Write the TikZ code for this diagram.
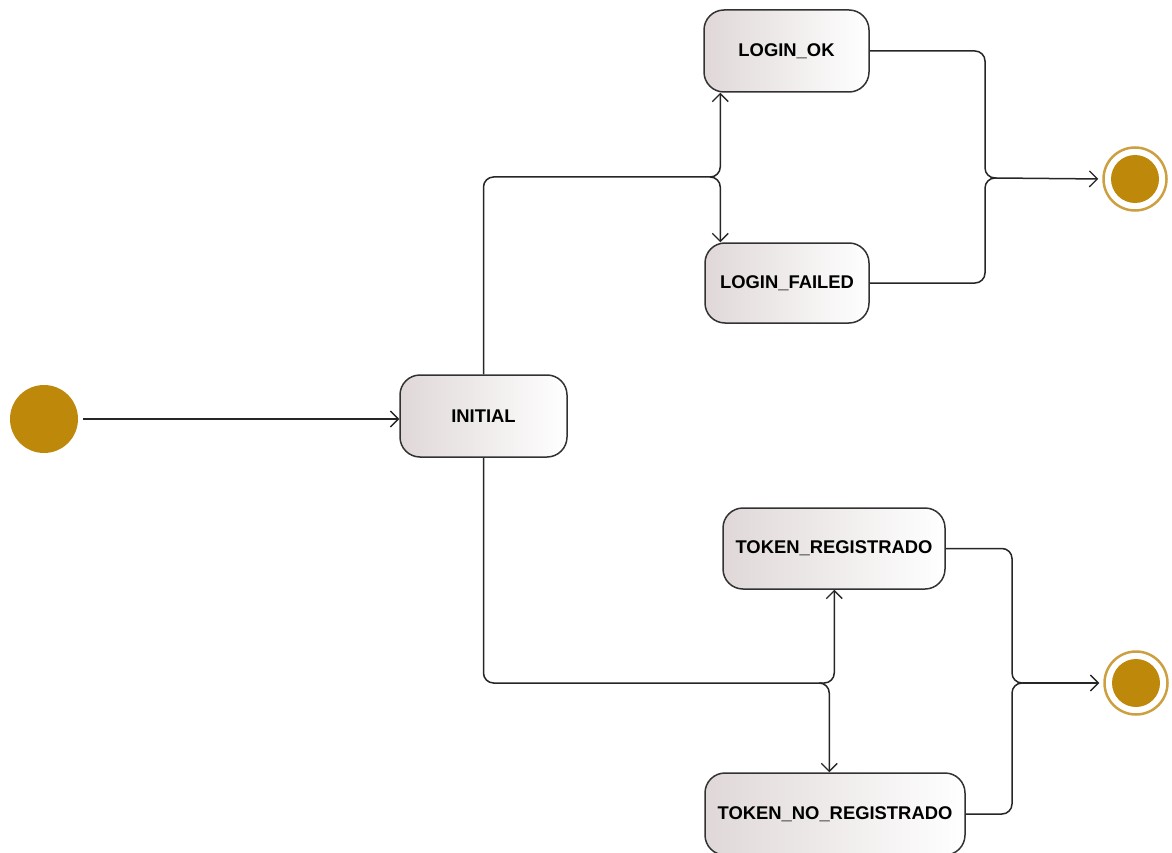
\documentclass[tikz,border=0pt]{standalone}
\usepackage{fontspec}
\setmainfont{Liberation Sans}
\usetikzlibrary{arrows.meta,calc}
\definecolor{gold}{RGB}{190,136,10}
\definecolor{ring}{RGB}{204,160,64}
\definecolor{boxl}{RGB}{224,216,216}
\definecolor{edge}{RGB}{50,50,50}
\begin{document}
\begin{tikzpicture}[x=1pt,y=-1pt,
  state/.style={draw=edge, line width=1.5pt, rounded corners=20pt, left color=boxl, right color=white,
    font=\bfseries\fontsize{18.4}{20}\selectfont, minimum height=82pt, inner sep=0pt},
  ln/.style={draw=black!85, line width=1.5pt},
  arr/.style={ln, -{Straight Barb[length=8pt,width=16pt,line width=1.3pt]}},
  final/.style={circle, draw=ring, line width=2.5pt, minimum size=63pt, inner sep=0pt,
    path picture={\fill[gold] (path picture bounding box.center) circle (24pt);}}]
\useasboundingbox (0,0) rectangle (1172,853);

\node[circle, fill=gold, minimum size=68pt, inner sep=0pt] (start) at (44,419) {};
\node[state, minimum width=167pt] (INIT) at (483.5,416) {INITIAL};
\node[state, minimum width=165pt] (LOK) at (786.5,51) {LOGIN\_OK};
\node[state, minimum width=164pt, minimum height=80pt] (LFAIL) at (787,283) {LOGIN\_FAILED};
\node[state, minimum width=222pt, minimum height=81pt] (TREG) at (834,548.5) {TOKEN\_REGISTRADO};
\node[state, minimum width=260pt] (TNO) at (835,814) {TOKEN\_NO\_REGISTRADO};
\node[final] (end1) at (1135,179) {};
\node[final] (end2) at (1136,683) {};

\coordinate (jT) at (710,177);
\coordinate (kT) at (996,178);
\coordinate (jB) at (822,683);
\coordinate (kB) at (1023,683);

\draw[arr, shorten <=5pt] (start.east) -- (start.east -| INIT.west);

\draw[ln, rounded corners=10pt] (INIT.north) |- (jT);
\draw[arr, rounded corners=10pt] (jT) -| ($(LOK.south west)+(17,0)$);
\draw[arr, rounded corners=10pt] (jT) -| ($(LFAIL.north west)+(16,0)$);
\draw[ln, rounded corners=10pt] (LOK.east) -| ($(kT)+(-11,0)$) -- (kT);
\draw[ln, rounded corners=10pt] (LFAIL.east) -| ($(kT)+(-11,0)$) -- (kT);
\draw[arr, shorten >=4pt] (kT) -- (end1.west);

\draw[ln, rounded corners=10pt] (INIT.south) |- (jB);
\draw[arr, rounded corners=10pt] (jB) -| ($(TREG.south west)+(112,0)$);
\draw[arr, rounded corners=10pt] (jB) -| ($(TNO.north west)+(125,0)$);
\draw[ln, rounded corners=10pt] (TREG.east) -| ($(kB)+(-11,0)$) -- (kB);
\draw[ln, rounded corners=10pt] (TNO.east) -| ($(kB)+(-11,0)$) -- (kB);
\draw[arr, shorten >=4pt] (kB) -- (end2.west);
\end{tikzpicture}
\end{document}
